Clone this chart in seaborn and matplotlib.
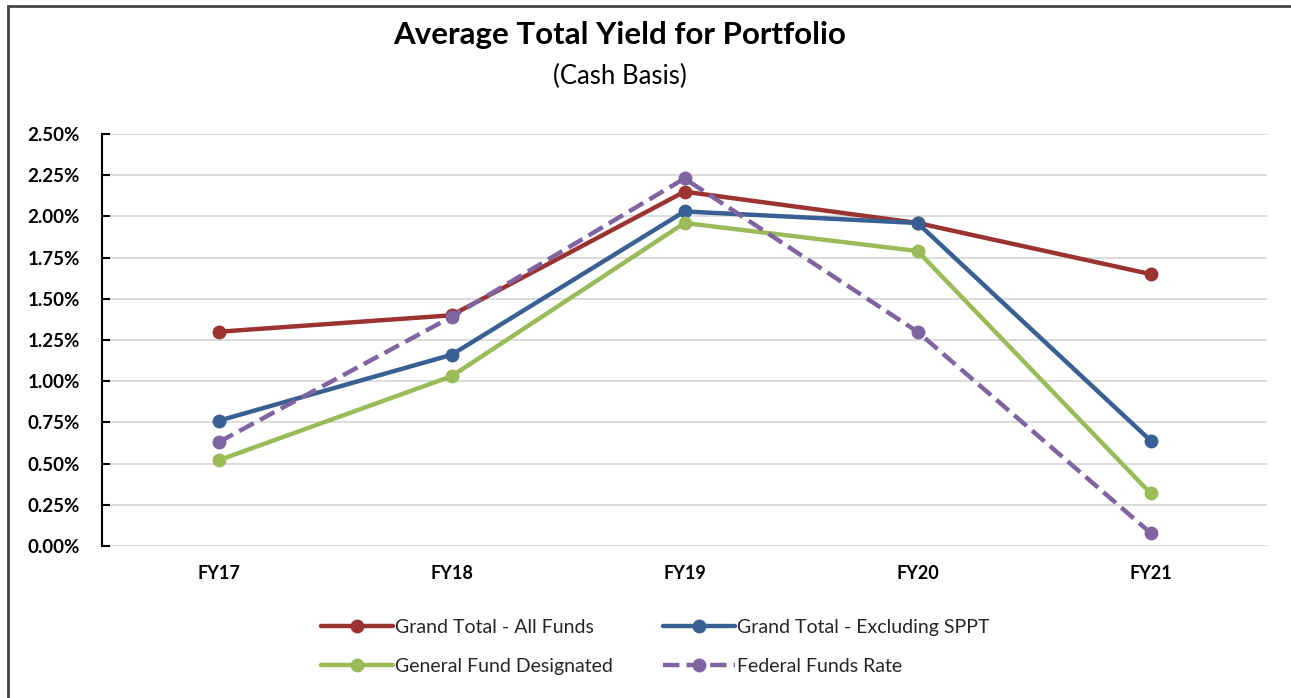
import matplotlib
matplotlib.use("Agg")
import matplotlib.pyplot as plt
import matplotlib.patches as mpatches
from matplotlib.ticker import FuncFormatter, MultipleLocator
import seaborn as sns
import pandas as pd

years = ["FY17", "FY18", "FY19", "FY20", "FY21"]
grand_total_all = [1.30, 1.40, 2.15, 1.96, 1.65]
grand_total_excl = [0.76, 1.16, 2.03, 1.96, 0.64]
general_fund = [0.52, 1.03, 1.96, 1.79, 0.32]
fed_funds = [0.63, 1.39, 2.23, 1.30, 0.08]

series_names = ["Grand Total - All Funds", "Grand Total - Excluding SPPT",
                "General Fund Designated", "Federal Funds Rate"]
series_values = [grand_total_all, grand_total_excl, general_fund, fed_funds]
colors = ["#9B3330", "#386092", "#9BBB59", "#8064A2"]
styles = ["-", "-", "-", "--"]

sns.set_theme(style="white")
plt.rcParams['font.family'] = ['Lato', 'DejaVu Sans']

fig = plt.figure(figsize=(12.91, 6.98), dpi=100)
ax = fig.add_axes([102/1291, 1-546/698, (1267-102)/1291, (546-134)/698])

xpos = list(range(len(years)))
for name, vals, c, ls in zip(series_names, series_values, colors, styles):
    df = pd.DataFrame({"x": xpos, "y": vals})
    sns.lineplot(data=df, x="x", y="y", ax=ax, color=c, linestyle=ls,
                 linewidth=3.2, marker="o", markersize=10, markeredgewidth=0,
                 label=name, sort=False, dashes=False, zorder=3)

ax.set_xlim(-0.5, 4.5)
ax.set_ylim(0, 2.5)
ax.yaxis.set_major_locator(MultipleLocator(0.25))
ax.yaxis.set_major_formatter(FuncFormatter(lambda v, p: f"{v:.2f}%"))
ax.set_xticks(xpos)
ax.set_xticklabels(years)
ax.set_xlabel("")
ax.set_ylabel("")
ax.grid(axis="y", color="#D9D9D9", linewidth=1.3)
ax.grid(axis="x", visible=False)
for s in ["top", "right", "bottom"]:
    ax.spines[s].set_visible(False)
ax.spines["left"].set_color("black")
ax.spines["left"].set_linewidth(1.5)
ax.tick_params(axis="y", direction="in", length=6, width=1.5, color="black",
               left=True, pad=16, labelsize=13.5)
ax.tick_params(axis="x", length=0, pad=14, labelsize=13)
for lbl in ax.get_yticklabels() + ax.get_xticklabels():
    lbl.set_fontweight("bold")
    lbl.set_color("black")

handles, labels = ax.get_legend_handles_labels()
order = [0, 2, 1, 3]
ax.legend([handles[i] for i in order], [labels[i] for i in order],
          loc="center", bbox_to_anchor=(0.5 - 29/1165, -0.245),
          ncol=2, frameon=False, fontsize=14, handlelength=3.7,
          columnspacing=2.6, labelspacing=1.15, handletextpad=0.1, numpoints=1)

fig.text(620/1291, 1-35/698, "Average Total Yield for Portfolio", ha="center",
         va="center", fontsize=22.5, fontweight="bold", color="black")
fig.text(620/1291, 1-76/698, "(Cash Basis)", ha="center", va="center",
         fontsize=18.5, color="black")

border = mpatches.Rectangle((8/1291, -0.1), 1.2, 1-6/698 + 0.1,
                            transform=fig.transFigure, fill=False,
                            edgecolor="#444444", linewidth=2, clip_on=False)
fig.patches.append(border)

fig.savefig("out.png", dpi=100, facecolor="white")
